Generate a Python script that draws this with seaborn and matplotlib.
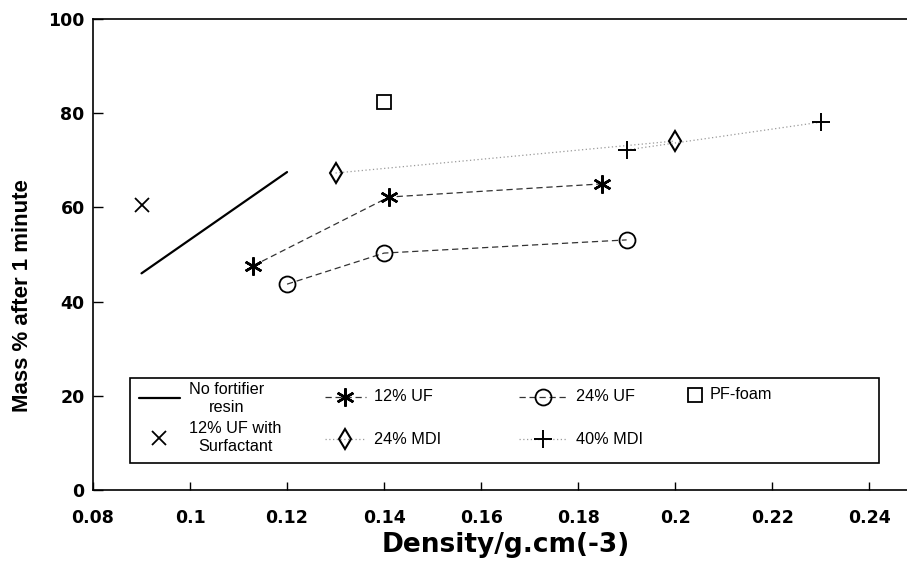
import matplotlib
matplotlib.use("Agg")
import matplotlib.pyplot as plt
import seaborn as sns
from matplotlib.patches import Rectangle

# values
nofort_x = [0.09, 0.12]
nofort_y = [46.0, 67.5]
surf_x = [0.09]
surf_y = [60.5]
uf12_x = [0.113, 0.141, 0.185]
uf12_y = [47.6, 62.2, 65.0]
uf24_x = [0.12, 0.14, 0.19]
uf24_y = [43.7, 50.3, 53.1]
pf_x = [0.14]
pf_y = [82.4]
mdi24_x = [0.13, 0.20]
mdi24_y = [67.3, 74.1]
mdi40_x = [0.19, 0.23]
mdi40_y = [72.2, 78.1]

xticks = [0.08, 0.10, 0.12, 0.14, 0.16, 0.18, 0.20, 0.22, 0.24]
xticklabels = ["0.08", "0.1", "0.12", "0.14", "0.16", "0.18", "0.2", "0.22", "0.24"]
yticks = [0, 20, 40, 60, 80, 100]

lab_nofort = "No fortifier\nresin"
lab_surf = "12% UF with\nSurfactant"
lab_uf12 = "12% UF"
lab_uf24 = "24% UF"
lab_pf = "PF-foam"
lab_mdi24 = "24% MDI"
lab_mdi40 = "40% MDI"

sns.set_theme(style="white", rc={"axes.edgecolor": "black", "xtick.color": "black",
                                 "ytick.color": "black", "text.color": "black",
                                 "axes.labelcolor": "black"})
plt.rcParams['font.family'] = ['Liberation Sans', 'DejaVu Sans']

fig = plt.figure(figsize=(9.07, 5.73), dpi=100)
ax = fig.add_axes([93 / 907, 83 / 573, 814 / 907, 471 / 573])

common = dict(ax=ax, legend=False, errorbar=None, sort=False)
sns.lineplot(x=nofort_x, y=nofort_y, color="black", lw=1.6, label=lab_nofort, **common)
sns.lineplot(x=surf_x, y=surf_y, color="black", linestyle="none", marker="x",
             markersize=10, markeredgecolor="black", markeredgewidth=1.3, label=lab_surf, **common)
sns.lineplot(x=uf12_x, y=uf12_y, color="#333333", lw=0.9, linestyle=(0, (5, 3)),
             marker=(6, 2, 0), markersize=13, markeredgecolor="black", markeredgewidth=1.8,
             label=lab_uf12, **common)
sns.lineplot(x=uf24_x, y=uf24_y, color="#333333", lw=0.9, linestyle=(0, (5, 3)),
             marker="o", markersize=11.5, markerfacecolor="none", markeredgecolor="black",
             markeredgewidth=1.3, label=lab_uf24, **common)
sns.lineplot(x=pf_x, y=pf_y, color="black", linestyle="none", marker="s", markersize=10,
             markerfacecolor="none", markeredgecolor="black", markeredgewidth=1.3,
             label=lab_pf, **common)
sns.lineplot(x=mdi24_x, y=mdi24_y, color="#9a9a9a", lw=0.9, linestyle=(0, (1, 2)),
             marker="d", markersize=10, markerfacecolor="none", markeredgecolor="black",
             markeredgewidth=1.5, label=lab_mdi24, **common)
sns.lineplot(x=mdi40_x, y=mdi40_y, color="#9a9a9a", lw=0.9, linestyle=(0, (1, 2)),
             marker="+", markersize=13, markeredgecolor="black", markeredgewidth=1.4,
             label=lab_mdi40, **common)

ax.set_xlim(0.08, 0.2478)
ax.set_ylim(0, 100)
ax.set_xticks(xticks)
ax.set_xticklabels(xticklabels)
ax.set_yticks(yticks)
ax.tick_params(axis="x", direction="in", length=6, width=1, pad=14, labelsize=12.5, bottom=True)
ax.tick_params(axis="y", direction="in", length=7, width=1, pad=6, labelsize=12.5, left=True)
for lab in ax.get_xticklabels() + ax.get_yticklabels():
    lab.set_fontfamily("DejaVu Sans")
    lab.set_fontweight("bold")

for s in ["left", "bottom", "top"]:
    ax.spines[s].set_linewidth(1.2)
ax.spines["right"].set_visible(False)

ax.set_xlabel("Density/g.cm(-3)", fontsize=19, fontweight="bold", family="DejaVu Sans")
ax.set_ylabel("Mass % after 1 minute", fontsize=16, fontweight="bold", family="Liberation Sans")
ax.xaxis.set_label_coords(0.507, -0.117)
ax.xaxis.label.set_va("center")
ax.yaxis.set_label_coords(-0.087, 0.412)
ax.yaxis.label.set_va("center")

handles, labels = ax.get_legend_handles_labels()
hmap = dict(zip(labels, handles))

# legend frame
ax.add_patch(Rectangle((0.0455, 0.0573), 0.9201, 0.1805, transform=ax.transAxes,
                       facecolor="white", edgecolor="black", lw=1.2, zorder=3))


def col_legend(keys, x, y, spacing, hlen=2.5, tpad=0.5):
    leg = ax.legend([hmap[k] for k in keys], keys, loc="center left", bbox_to_anchor=(x, y),
                    frameon=False, borderpad=0, borderaxespad=0, labelspacing=spacing,
                    handlelength=hlen, handletextpad=tpad, numpoints=1,
                    prop={"family": "Liberation Sans", "size": 11.7})
    for t in leg.get_texts():
        t.set_multialignment("center")
        t.set_linespacing(1.25)
    for col in leg._legend_handle_box.get_children():
        for row in col.get_children():
            row.align = "center"
    leg.set_zorder(4)
    ax.add_artist(leg)
    return leg


col_legend([lab_nofort, lab_surf], 0.0565, 0.1529, 0.4, tpad=0.6)
col_legend([lab_uf12, lab_mdi24], 0.285, 0.1529, 1.68)
col_legend([lab_uf24, lab_mdi40], 0.523, 0.1529, 1.68, hlen=3.0)
col_legend([lab_pf], 0.727, 0.2017, 1.68, hlen=1.2, tpad=0.3)
ax.legend_ = None

fig.savefig("out.png", dpi=100)
